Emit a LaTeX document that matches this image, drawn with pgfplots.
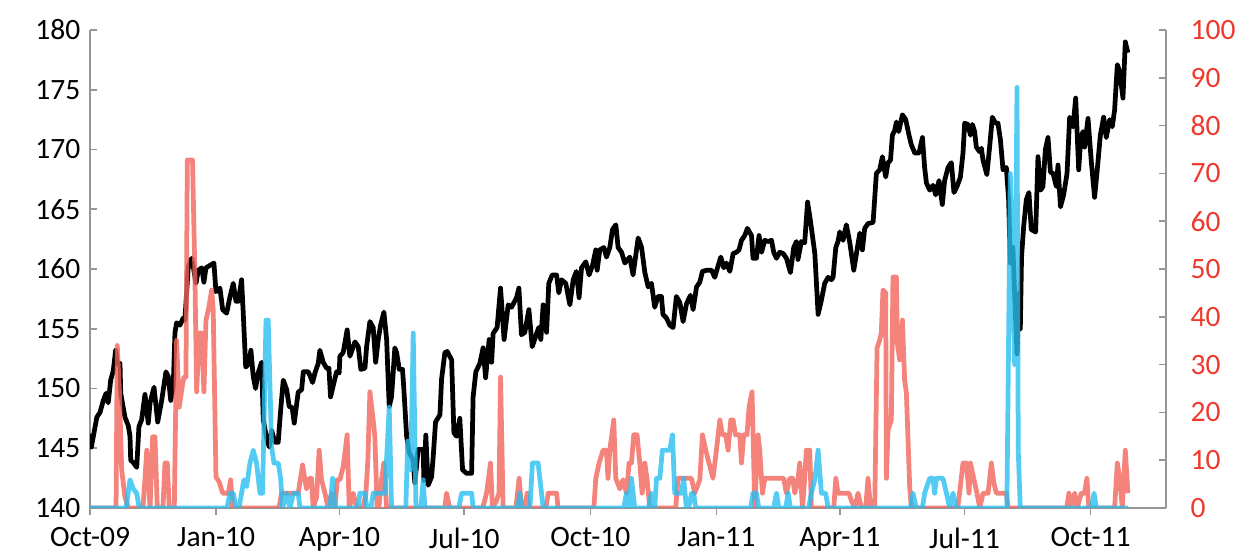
\documentclass[border=0pt]{standalone}
\usepackage{fontspec}
\setmainfont{Carlito}
\usepackage{pgfplots}
\pgfplotsset{compat=1.18}
\definecolor{axgray}{RGB}{150,150,150}
\definecolor{salmon}{RGB}{240,100,90}
\definecolor{skyline}{RGB}{40,190,240}
\definecolor{redlab}{RGB}{238,58,44}
\pgfplotsset{
  base/.style={
    scale only axis, width=21.52cm, height=9.56cm,
    xmin=0, xmax=785,
    axis line style={axgray, line width=0.9pt},
    tick style={axgray, line width=0.9pt},
    major tick length=0.14cm,
    tick align=inside,
    tick label style={font=\fontsize{16.8}{18}\selectfont},
    /pgf/number format/assume math mode=true,
    scaled y ticks=false,
  },
  ser/.style={line width=2.7pt, line join=round, no markers},
}

\begin{document}
\begin{tikzpicture}
\useasboundingbox (-1.8cm,-0.96cm) rectangle (23.38cm,10.16cm);
% left axis: index level (days since 1 Oct 2009)
\begin{axis}[base,
    axis x line*=bottom, axis y line*=left,
    ymin=140, ymax=180, ytick={140,145,...,180},
    xtick={0,92,182,273,365,457,547,638,730},
    xticklabels={Oct-09,Jan-10,Apr-10,Jul-10,Oct-10,Jan-11,Apr-11,Jul-11,Oct-11},
    xtick style={yshift=-0.14cm},
    xticklabel style={yshift=-0.27cm},
    yticklabel style={xshift=-0.07cm},
]
\addplot[ser, black] coordinates {
(0,146.2)(1,145.1)(5,147.6)(7.3,148)(9.7,149)(11.7,149.6)(13.3,148.8)(15.1,150.7)(17,151.5)(18.7,153.2)(19.9,152.1)(21.9,152.1)(22.4,149.6)(25.5,147.6)(27.9,146.9)(29.2,146)(29.7,144)(31.6,143.8)(34.1,143.4)(35.7,146.8)(37.7,147.4)(40.1,149.5)(42.5,147.1)(43.8,148.8)(46.7,150.1)(49.4,147.2)(52.3,149)(55.4,151.4)(57.1,151)(58.9,149)(60.7,150.1)(62,154.7)(63.2,155.5)(65.6,155.3)(68,155.9)(69.2,155.7)(71.7,160.2)(74.2,160.9)(75.8,159.9)(77.3,158.8)(79,159.9)(81.5,160.1)(83.1,158.9)(84.6,160.1)(87.5,160.3)(90.4,160.5)(91.9,158.1)(94.8,158.4)(96.8,156.6)(99.7,156.3)(101.6,157.4)(104.5,158.8)(106.5,157.3)(108.2,157.3)(110.6,159.1)(111.8,156.3)(113.6,151.8)(115.4,152)(117.4,153.2)(119.1,151)(120.8,150)(122.7,151.3)(125.2,152.2)(126.4,147.4)(128.9,145.8)(130.8,145.1)(132.5,146.5)(134.9,145.5)(137.3,145.5)(139.1,148.2)(141,150.7)(143.5,149.9)(145.3,148.5)(147.5,148.4)(149,147.1)(151.9,149.7)(154.4,149.9)(155.6,151.4)(159.2,151.4)(160.4,151.1)(162.4,150.5)(164.1,151.3)(166.5,152.1)(167.7,153.2)(170.1,152.2)(172.6,151.7)(174.3,151.7)(175.5,149.3)(178,150.5)(179.9,151.4)(181.8,151.3)(182.3,152.7)(184.7,153)(187.6,154.9)(189.6,152.7)(193.3,153.9)(195.7,153.5)(197.6,151.6)(200.6,151.7)(201.8,153.5)(204.2,155.6)(206.6,155.1)(208.4,152.2)(210.3,154.1)(212,155.3)(214.4,156.4)(216.4,154.1)(218.3,148.5)(220,149.3)(222.4,153.4)(223.7,153)(225.6,151.6)(228,151.6)(229,149.9)(231,146)(232.9,144.6)(235.8,144)(237,142.1)(239.4,144.9)(243.1,144.9)(243.6,142.3)(245,146.1)(246.7,141.9)(249.2,142.6)(250.4,144.3)(252.1,147.2)(255.3,147.8)(256.5,150.8)(258.9,153)(260.6,153.1)(263.8,152.4)(265.5,146.3)(267.4,146)(269.8,147.5)(271.8,143.2)(274.7,142.9)(278.4,142.9)(279.5,149.3)(281.5,151.4)(284.4,152.1)(286.8,153.4)(288.6,150.9)(291.2,154.1)(293,152.2)(294.1,154.6)(297,155.1)(299.5,158.4)(302.1,154.1)(305.1,157)(307.5,156.8)(311.2,157.6)(312.9,158.4)(314.8,154.5)(317.2,154.7)(320.2,156.6)(322.6,153.5)(325.8,154.6)(327.4,155.1)(328.9,154.1)(330.6,157)(333.1,154.7)(334.7,158.8)(337.2,159.5)(340.4,159.5)(342,158)(344,159.1)(347.1,158.8)(350.1,157)(352.5,159.1)(354.9,159.8)(356.8,157.6)(358.6,160.1)(361.7,160.6)(364.1,159.5)(366.6,160.3)(369,161.6)(370,159.9)(371.9,161.6)(374.9,161.8)(376.8,161)(379.2,161.8)(381.2,163.3)(383.6,163.7)(385.3,161.8)(387.8,161.4)(390.2,160.5)(393.8,161)(396.2,159.5)(399.9,162.6)(402.4,161.8)(404.8,159.7)(407.2,158.5)(409.6,158.8)(412,156.8)(414.4,157.7)(416.9,157.7)(418,156.2)(420.5,155.9)(423,155.3)(425.4,155.1)(427.8,157.7)(430.3,157.2)(432.7,155.6)(435.2,157.1)(438.1,157.8)(440,156.6)(442.5,158.5)(444.9,158.9)(446.8,159.8)(450.2,159.9)(453.4,159.9)(455.8,159.3)(457.8,160.1)(460.2,161)(462.4,160.1)(464.3,160.5)(466.8,159.8)(469.2,161.3)(471.6,161.4)(473.5,161.6)(475.3,162.4)(477.7,162.8)(479.6,163.4)(482.6,162.8)(483.7,160.9)(486.2,160.9)(488.1,162.8)(489.9,161.4)(492.3,162.4)(494.7,162.3)(497.2,162.4)(498.8,161.4)(500.8,160.9)(503.2,161.4)(505.6,161.3)(508.1,160.9)(511,159.7)(513.4,161.8)(515.4,162.3)(516.5,160.8)(519,162.3)(521.4,162.2)(523.5,165.6)(525.5,164.1)(528.8,161.3)(531.2,156.2)(533.6,157.4)(536,158.8)(538.5,159.3)(540.9,159.1)(542.1,159.3)(544.1,161.8)(545.7,162.3)(547,163.1)(549.4,162.4)(551.8,163.7)(554.3,162.2)(557.2,159.9)(559.6,161.6)(561.6,163)(563.5,161.6)(565.2,163.4)(567.6,163.8)(571.3,163.9)(573.7,168)(576.1,168.3)(578.1,169.4)(580.5,167.7)(582.2,168.9)(584,169.1)(585.4,171.2)(587.1,171.6)(588.3,172.3)(590,171.5)(592.7,172.9)(595.1,172.5)(597.5,171.2)(599.2,170.4)(601.7,169.7)(604.8,169.7)(607.3,171)(608.9,168.5)(610.2,167.2)(612.6,166.6)(615,167)(617,166.2)(619.4,167.4)(621.8,165.4)(623.5,167.4)(626,168.5)(628.4,168.9)(630.3,166.4)(632.5,166.9)(635,167.7)(636.9,169.7)(638.1,172.2)(640.5,172.1)(642.3,171.2)(643.7,172.1)(645.4,171.5)(646.6,170.2)(649.1,169.8)(650.3,170.1)(651.5,169.1)(654.3,167.9)(656.3,170.2)(658.3,172.7)(660.7,172.2)(662.4,172.2)(664.2,170.8)(666.1,168.3)(668.5,168.5)(670.2,165.8)(671.4,160.5)(673.3,161.8)(674.8,157.2)(676.3,152.9)(678,158)(678.7,155)(679.6,161)(681.1,163.5)(683.1,165.8)(685,166.4)(686.7,163.3)(689.9,163.1)(691.6,169.4)(693.6,166.6)(695.2,166.9)(697,170)(698.9,171)(700.7,168.1)(702.6,168)(705,166.9)(706.2,168.7)(708,165.2)(710.3,166.2)(712.8,168)(714.7,172.7)(717.2,171.9)(719.1,174.3)(721.3,168.3)(722.7,170.8)(724.4,171.5)(725.6,170.2)(728.1,172.6)(730.5,169)(732.9,166)(734.6,168)(737.1,171.2)(739.5,172.7)(741.4,171)(743.9,172.5)(745.8,171.9)(747.5,173.3)(749.5,177.1)(751.2,176.5)(753.6,174.3)(755.3,179)(757.2,178.1)
};
\end{axis}
% right axis: salmon and blue series
\begin{axis}[base,
    axis x line=none, axis y line*=right,
    ymin=0, ymax=100, ytick={0,10,...,100},
    yticklabel style={redlab, xshift=0.37cm},
]
\addplot[ser, salmon, opacity=0.8] coordinates {
(0,0)(19,0)(19.9,34)(21.4,25)(23.1,8)(25.5,2.3)(27.9,0)(38.6,0)(40.1,6)(41.4,12.1)(43.8,0)(45.7,14.9)(47.4,14.9)(49.1,0)(53.2,0)(54.7,9.4)(56.4,9.4)(57.8,0)(61.5,0)(63.2,35.1)(65.1,21.1)(66.9,24.7)(68.5,27.4)(70,27.4)(71,72.8)(74.8,72.8)(76.5,49.2)(77.8,24.3)(79.7,36.6)(81.4,36.6)(83.1,24.3)(84.6,39.3)(86.3,41.4)(88.8,45.6)(89.9,41.4)(91.9,6.5)(94.3,5.4)(96.8,3.1)(100.9,3.1)(102.6,5.9)(104.1,0)(137.8,0)(139.8,3.1)(151.9,3.1)(155.1,9)(156.8,5.9)(158,4)(159.9,6.2)(161.6,6.2)(162.8,0)(165.3,2.3)(167.2,12.1)(168.9,5.9)(171.4,3.1)(173.8,0)(176.3,3.1)(178.7,0)(180.4,5.9)(182.3,5.9)(184.7,8.6)(187.6,15.3)(189.1,0)(192,3.1)(194.5,0)(199.1,0)(201.3,3.1)(202.7,10)(204.2,24.3)(206.6,18.4)(207.8,14.9)(209.5,0)(210.7,0)(212.7,5.9)(214.4,9.4)(216.4,0)(258.9,0)(260.1,3.1)(261.3,1.5)(262.5,0)(286.5,0)(289.3,3.1)(292.2,9.4)(293.6,0)(296.5,1.5)(298.4,3.1)(299.5,27.4)(301.4,0)(310.7,0)(313.1,6.2)(314.8,0)(317.2,0)(318.9,3.1)(320.3,0)(332.6,0)(334.3,3.1)(340.4,3.1)(341.5,0)(367.6,0)(369,6.2)(371.4,9.4)(374.3,12.1)(376.8,12.1)(377.9,6.2)(379.2,12.1)(382.1,18.4)(383.6,6.2)(386.5,4)(388.9,5.9)(391.4,3.1)(393.3,9.4)(395,9.4)(396.7,15.3)(399.1,15.3)(401.1,9.4)(402.8,3.1)(404.8,9.4)(406.4,5.9)(408.4,0)(427.3,0)(429,6.2)(438.8,6.2)(441.2,3.1)(444.9,5.9)(446.8,15.3)(449.2,12.1)(451.6,9.4)(454.5,6.2)(457,12.1)(459.5,18.4)(461.4,15.3)(463.8,15.3)(465.5,12.1)(467.5,18.4)(469.2,18.4)(470.9,15.3)(474,15.3)(475.3,9.4)(476.9,15.3)(479.3,15.3)(480.8,21.1)(483,24.3)(485,0)(487.4,15.3)(488.6,12.1)(490.6,3.1)(492.3,6.2)(506.1,6.2)(508,3.1)(510.5,6.2)(512.6,6.2)(514.2,3.1)(516.6,6.2)(517.8,9.4)(519.8,0)(521.4,6.2)(522.6,12.1)(525.1,12.1)(526.3,0)(542.6,0)(544.1,6.2)(545.7,3.1)(553.7,3.1)(555.5,1.5)(557.9,0)(560.3,3.1)(562.8,0)(565.9,0)(567.6,6.2)(569.4,0)(572.5,0)(574.2,33.5)(576.1,35.1)(577.3,36.6)(578.5,45.6)(580.5,45)(581,6.2)(582.2,16.3)(584.6,18.4)(585.8,48.3)(588.3,48.3)(589,34.5)(590.7,31)(592.7,39.3)(594.3,26.8)(595.6,24)(598,4.4)(599.2,0)(633,0)(634.4,3.1)(636.9,9.4)(639.3,9.4)(641.3,3.1)(642.3,9.4)(644.7,6.2)(647.1,3.1)(649.1,0)(651.5,3.1)(655.2,3.1)(657.6,9.4)(659.3,5.4)(661.2,3.1)(668.5,3.1)(669.7,0)(712.5,0)(714.2,3.1)(715.4,0)(718.4,3.1)(720.2,0)(723.2,3.1)(725.6,3.1)(727.3,6.2)(728.6,0)(747.5,0)(749.5,9.4)(751.2,6.2)(753.1,0)(755.3,12.1)(757.2,3.1)
};
\addplot[ser, skyline, opacity=0.8] coordinates {
(0,0)(26.3,0)(29.2,5.9)(31.6,4)(34,3.1)(36,0)(99.9,0)(102.1,3.1)(104.5,3.1)(106.5,0)(108.7,0)(110.6,3.1)(112.3,5.9)(114.3,4.5)(116.7,9.4)(119.1,12.1)(121.5,9.4)(124,3.1)(125.9,3.1)(128.4,39.3)(130,39.3)(132.5,12.8)(134.2,9.4)(137.3,9.4)(139.1,6.2)(140.5,0)(143.5,3.1)(145.9,0)(148.3,3.1)(151.9,3.1)(153.2,0)(175,0)(177,6.2)(178.7,0)(195.5,0)(196.9,3.1)(200.6,3.1)(202,0)(205,0)(206.6,3.1)(215.1,3.1)(218.3,21.1)(220,0)(230.4,0)(231.8,14)(234,8)(235.8,36.6)(237.8,0)(241.4,0)(243.1,5.9)(244.3,0)(269.1,0)(271.1,3.1)(278.4,3.1)(279.5,0)(312.1,0)(313.6,3.1)(315,0)(320.9,0)(322.8,9.4)(326.9,9.4)(329.4,3.1)(330.6,0)(389.4,0)(391.4,3.1)(393.4,0)(395,6.2)(397.4,0)(407.5,0)(409.6,3.1)(412,0)(413.3,6.2)(415.7,6.2)(417.6,12.1)(423,12.1)(424.9,15.3)(426.6,3.1)(431.5,3.1)(433.1,6.2)(435.1,0)(436.8,0)(438.8,3.1)(440.4,3.1)(441.9,0)(482,0)(483.7,3.1)(486.2,3.1)(487.9,0)(498.8,0)(500.8,3.1)(502.5,0)(507.6,0)(509.3,3.1)(511,0)(524.3,0)(526.3,3.1)(528.8,6)(531.2,12.1)(533.6,3.1)(536.7,3.1)(538.5,0)(598.7,0)(600.4,3.1)(602.8,0)(607.3,0)(608.9,3.1)(612.6,6.2)(615,6.2)(616.2,3.1)(617.5,6.2)(622.3,6.2)(624.8,3.1)(627.2,0)(629.6,3.1)(632,0)(668.9,0)(671.4,70)(673.3,45)(674.6,30)(676.3,88)(677.2,12)(678.7,0)(730.5,0)(732.5,3.1)(734.2,0)(757.2,0)
};
\end{axis}
\end{tikzpicture}
\end{document}
